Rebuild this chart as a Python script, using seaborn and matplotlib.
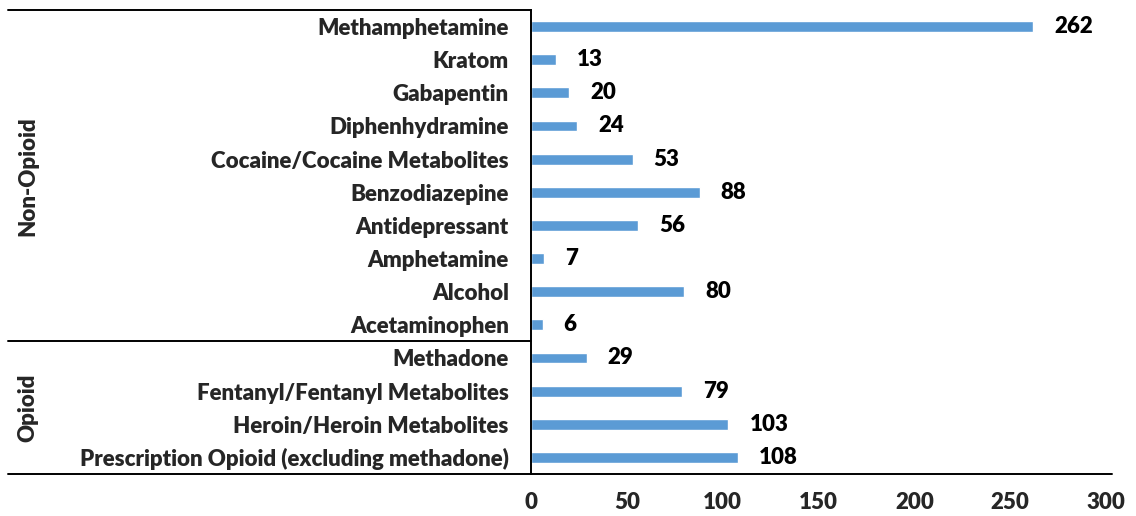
import matplotlib
matplotlib.use("Agg")
import matplotlib.pyplot as plt
import seaborn as sns
import pandas as pd

substances = [
    "Methamphetamine", "Kratom", "Gabapentin", "Diphenhydramine",
    "Cocaine/Cocaine Metabolites", "Benzodiazepine", "Antidepressant",
    "Amphetamine", "Alcohol", "Acetaminophen",
    "Methadone", "Fentanyl/Fentanyl Metabolites",
    "Heroin/Heroin Metabolites", "Prescription Opioid (excluding methadone)",
]
counts = [262, 13, 20, 24, 53, 88, 56, 7, 80, 6, 29, 79, 103, 108]
groups = ["Non-Opioid"] * 10 + ["Opioid"] * 4
x_ticks = [0, 50, 100, 150, 200, 250, 300]

df = pd.DataFrame({"substance": substances, "count": counts, "group": groups})

sns.set_theme(style="white")
plt.rcParams["font.family"] = ["Lato", "DejaVu Sans"]

FS = 16
FW = "heavy"
W, H = 1136, 516
fig = plt.figure(figsize=(W / 100, H / 100), dpi=100)
ax_l, ax_r, ax_t, ax_b = 531, 1106, 10, 474
ax = fig.add_axes([ax_l / W, 1 - ax_b / H, (ax_r - ax_l) / W, (ax_b - ax_t) / H])

sns.barplot(data=df, y="substance", x="count", order=substances, orient="h",
            color="#5B9BD5", saturation=1, width=0.33, ax=ax)

ax.set_xlim(0, 300)
ax.set_ylim(len(substances) - 0.5, -0.5)
ax.set_xticks(x_ticks)
ax.set_xticklabels([str(t) for t in x_ticks], fontsize=FS, fontweight=FW)
ax.tick_params(axis="x", length=0, pad=13)
ax.tick_params(axis="y", length=0, pad=16)
for lab in ax.get_yticklabels():
    lab.set_fontsize(FS)
    lab.set_fontweight(FW)
ax.set_xlabel("")
ax.set_ylabel("")

for s in ["top", "right", "bottom"]:
    ax.spines[s].set_visible(False)
ax.spines["left"].set_color("black")
ax.spines["left"].set_linewidth(1.4)

# data value labels
for i, v in enumerate(counts):
    ax.text(v + 11, i, str(v), va="center", ha="left", fontsize=FS,
            fontweight=FW, color="black")

# frame lines of the grouped category axis (figure coordinates)
def fy(py):
    return 1 - py / H

def fx(px):
    return px / W

lw = 1.4
fig.add_artist(plt.Line2D([fx(8), fx(ax_l)], [fy(ax_t), fy(ax_t)], color="black", lw=lw))
fig.add_artist(plt.Line2D([fx(8), fx(1112)], [fy(ax_b), fy(ax_b)], color="black", lw=lw))
row_h = (ax_b - ax_t) / len(substances)
split = ax_t + row_h * 10
fig.add_artist(plt.Line2D([fx(8), fx(ax_l)], [fy(split), fy(split)], color="black", lw=lw))

# group labels
fig.text(fx(28), fy((ax_t + split) / 2), "Non-Opioid", rotation=90, ha="center",
         va="center", fontsize=FS, fontweight=FW)
fig.text(fx(28), fy((split + ax_b) / 2), "Opioid", rotation=90, ha="center",
         va="center", fontsize=FS, fontweight=FW)

fig.savefig("out.png", dpi=100, facecolor="white")
